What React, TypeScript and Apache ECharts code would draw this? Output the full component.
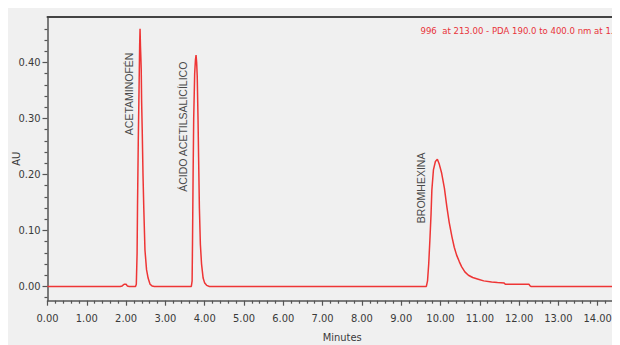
import React, { useEffect, useRef } from "react";
import * as echarts from "echarts";

const NARROW = "'DejaVu Sans Condensed', 'Liberation Sans Narrow', 'Arial Narrow', sans-serif";
const SANS = "'Liberation Sans', Arial, sans-serif";

const TITLE = "996  at 213.00 - PDA 190.0 to 400.0 nm at 1.2";
const X_NAME = "Minutes";
const Y_NAME = "AU";

const Y_MAJOR = [0, 0.1, 0.2, 0.3, 0.4];
const Y_MINOR = [-0.02, 0.02, 0.04, 0.06, 0.08, 0.12, 0.14, 0.16, 0.18, 0.22, 0.24, 0.26, 0.28, 0.32, 0.34, 0.36, 0.38, 0.42, 0.44, 0.46];

// chromatogram trace, [minutes, AU]
const baseline: [number, number][] = [
  [0, 0], [1.85, 0], [1.9, 0.001], [1.95, 0.004], [2.0, 0.004], [2.03, 0.001], [2.08, 0], [2.24, 0],
];
const peakAcetaminofen: [number, number][] = [
  [2.26, 0.004], [2.28, 0.06], [2.29, 0.14], [2.31, 0.26], [2.33, 0.356], [2.345, 0.43], [2.355, 0.46],
  [2.365, 0.43], [2.375, 0.41], [2.385, 0.387], [2.395, 0.33], [2.41, 0.28], [2.43, 0.2], [2.45, 0.14],
  [2.48, 0.065], [2.52, 0.03], [2.56, 0.015], [2.61, 0.004], [2.66, 0.001], [2.72, 0],
];
const peakAcido: [number, number][] = [
  [3.66, 0], [3.68, 0.01], [3.69, 0.08], [3.705, 0.2], [3.72, 0.3], [3.745, 0.38], [3.765, 0.405],
  [3.78, 0.413], [3.795, 0.4], [3.81, 0.375], [3.83, 0.3], [3.845, 0.23], [3.865, 0.14], [3.89, 0.075],
  [3.92, 0.04], [3.96, 0.015], [4.0, 0.006], [4.05, 0.002], [4.12, 0],
];
const peakBromhexina: [number, number][] = [
  [9.64, 0], [9.67, 0.01], [9.7, 0.04], [9.73, 0.083], [9.76, 0.13], [9.78, 0.172], [9.82, 0.208],
  [9.87, 0.223], [9.92, 0.227], [9.97, 0.218], [10.03, 0.202], [10.1, 0.175], [10.16, 0.143],
  [10.22, 0.115], [10.29, 0.089], [10.35, 0.07], [10.41, 0.056], [10.48, 0.044], [10.54, 0.035],
  [10.62, 0.026], [10.71, 0.02], [10.82, 0.016], [10.96, 0.013], [11.1, 0.01], [11.3, 0.008],
  [11.45, 0.007], [11.62, 0.006], [11.65, 0.004], [12.0, 0.004], [12.25, 0.004], [12.28, 0.001],
  [12.3, 0], [15, 0],
];

const PEAK_NAMES = ["ACETAMINOFÉN", "ÁCIDO ACETILSALICÍLICO", "BROMHEXINA"];
const PEAK_LABEL_AT: [number, number][] = [[2.076, 0.27], [3.46, 0.169], [9.51, 0.113]];

export default function App() {
  const ref = useRef<HTMLDivElement>(null);
  useEffect(() => {
    document.documentElement.style.overflow = "hidden";
    document.body.style.overflow = "hidden";
    if (!ref.current) return;
    const chart = echarts.init(ref.current, null, { renderer: "svg" });
    const data = [...baseline, ...peakAcetaminofen, ...peakAcido, ...peakBromhexina];
    const yMin = -0.0254;
    const yMax = 0.481;
    const axisColor = "#555";
    const labelColor = "#3a3a3a";
    chart.setOption({
      animation: false,
      backgroundColor: "#f0f0f0",
      textStyle: { fontFamily: NARROW },
      title: {
        text: TITLE,
        right: 1,
        top: 17,
        padding: 0,
        textStyle: { color: "#e8333a", fontSize: 9.5, fontWeight: "normal", fontFamily: NARROW },
      },
      grid: { left: 39.5, top: 9, right: -17, bottom: 44.3, containLabel: false, outerBoundsMode: "none" },
      xAxis: [
        {
          type: "value",
          min: 0,
          max: 15,
          interval: 1,
          name: X_NAME,
          nameLocation: "middle",
          nameGap: 31,
          nameMoveOverlap: false,
          nameTextStyle: { color: labelColor, fontSize: 11, fontFamily: NARROW },
          axisLine: { onZero: false, lineStyle: { color: axisColor, width: 1.5 } },
          axisTick: { length: 5, lineStyle: { color: axisColor, width: 1.2 } },
          minorTick: { show: true, splitNumber: 5, length: 3, lineStyle: { color: axisColor, width: 1.2 } },
          axisLabel: {
            formatter: (v: number) => v.toFixed(2),
            showMaxLabel: false,
            margin: 12,
            color: labelColor,
            fontSize: 11,
            fontFamily: NARROW,
          },
          splitLine: { show: false },
        },
        {
          type: "value",
          position: "top",
          min: 0,
          max: 15,
          axisLine: { show: true, onZero: false, lineStyle: { color: "#444", width: 2 } },
          axisTick: { show: false },
          axisLabel: { show: false },
          splitLine: { show: false },
        },
      ],
      yAxis: [
        {
          type: "value",
          min: yMin,
          max: yMax,
          name: Y_NAME,
          nameLocation: "middle",
          nameRotate: 90,
          nameGap: 26,
          nameMoveOverlap: false,
          nameTextStyle: { color: labelColor, fontSize: 11, fontFamily: NARROW },
          axisLine: { show: true, onZero: false, lineStyle: { color: axisColor, width: 1.5 } },
          axisTick: { show: true, customValues: Y_MAJOR, length: 5, lineStyle: { color: axisColor, width: 1.2 } },
          axisLabel: {
            customValues: Y_MAJOR,
            formatter: (v: number) => v.toFixed(2),
            margin: 7,
            color: labelColor,
            fontSize: 11,
            fontFamily: NARROW,
          },
          splitLine: { show: false },
        },
        {
          type: "value",
          min: yMin,
          max: yMax,
          position: "left",
          axisLine: { show: false, onZero: false },
          axisTick: { show: true, customValues: Y_MINOR, length: 3, lineStyle: { color: axisColor, width: 1.2 } },
          axisLabel: { show: false },
          splitLine: { show: false },
        },
      ],
      series: [
        {
          type: "line",
          data,
          xAxisIndex: 0,
          yAxisIndex: 0,
          showSymbol: false,
          symbol: "none",
          lineStyle: { color: "#ee3535", width: 1.5 },
          markPoint: {
            symbol: "circle",
            symbolSize: 0,
            silent: true,
            data: PEAK_NAMES.map((n, i) => ({
              name: n,
              coord: PEAK_LABEL_AT[i],
              label: {
                show: true,
                formatter: n,
                position: [0, 0],
                rotate: 90,
                align: "left",
                verticalAlign: "middle",
                color: "#4a4a4a",
                fontSize: 10.5,
                fontFamily: SANS,
              },
            })),
          },
        },
      ],
    });
    return () => chart.dispose();
  }, []);
  return <div ref={ref} style={{ width: 612, height: 337 }} />;
}
